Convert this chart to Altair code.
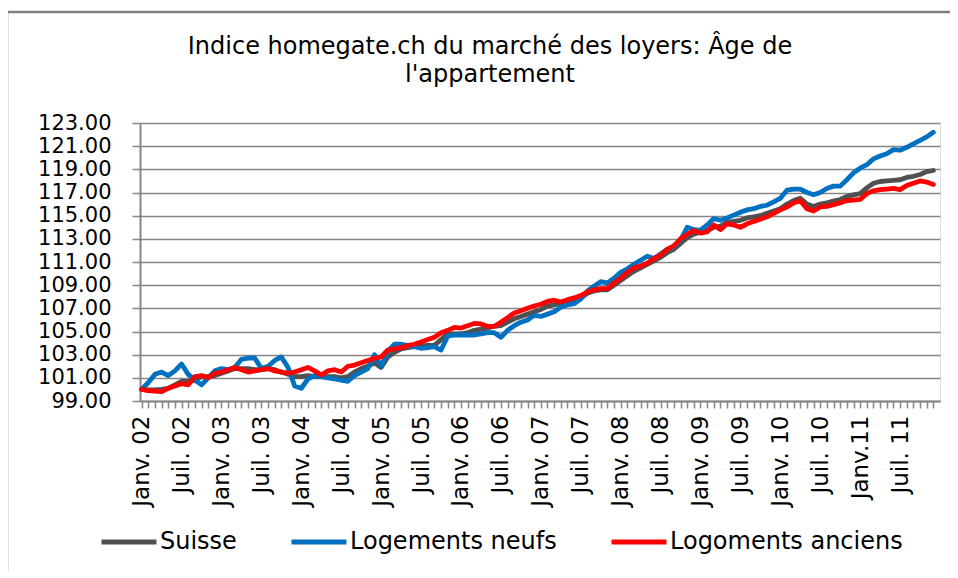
import altair as alt
import pandas as pd

months = list(range(120))

suisse = [
    100.0, 99.95, 99.95, 100.0, 100.1, 100.4, 100.7, 100.7, 100.8, 101.1,
    101.1, 101.2, 101.4, 101.6, 101.8, 101.8, 101.8, 101.7, 101.7, 101.8,
    101.7, 101.5, 101.3, 101.1, 101.1, 101.2, 101.1, 101.1, 101.1, 101.1,
    101.0, 101.1, 101.5, 101.8, 102.0, 102.3, 101.9, 102.8, 103.2, 103.5,
    103.6, 103.7, 103.75, 103.8, 103.8, 104.3, 104.8, 104.8, 104.8, 104.9,
    105.1, 105.2, 105.3, 105.45, 105.5, 105.8, 106.1, 106.3, 106.5, 106.7,
    106.9, 107.2, 107.3, 107.45, 107.6, 107.7, 107.9, 108.3, 108.5, 108.6,
    108.6, 109.0, 109.4, 109.8, 110.2, 110.5, 110.8, 111.1, 111.4, 111.8,
    112.1, 112.6, 113.1, 113.4, 113.6, 113.7, 114.0, 114.1, 114.4, 114.5,
    114.6, 114.8, 114.9, 115.0, 115.2, 115.4, 115.6, 116.0, 116.3, 116.5,
    116.0, 115.8, 116.0, 116.1, 116.25, 116.4, 116.65, 116.8, 116.9, 117.4,
    117.8, 117.95, 118.0, 118.05, 118.1, 118.3, 118.4, 118.55, 118.8, 118.9,
]

neufs = [
    100.0, 100.6, 101.3, 101.5, 101.2, 101.6, 102.2, 101.3, 100.8, 100.4,
    101.0, 101.6, 101.8, 101.7, 101.9, 102.6, 102.7, 102.7, 101.8, 102.0,
    102.5, 102.8, 101.9, 100.3, 100.1, 100.9, 101.2, 101.1, 101.0, 100.9,
    100.8, 100.7, 101.2, 101.5, 101.8, 103.0, 102.0, 103.3, 103.9, 103.9,
    103.8, 103.7, 103.55, 103.6, 103.7, 103.4, 104.6, 104.7, 104.7, 104.7,
    104.7, 104.8, 104.9, 104.9, 104.5, 105.1, 105.5, 105.8, 106.0, 106.4,
    106.3, 106.5, 106.7, 107.1, 107.3, 107.4, 107.8, 108.5, 108.9, 109.3,
    109.2, 109.6, 110.1, 110.4, 110.8, 111.15, 111.5, 111.3, 111.7, 112.1,
    112.3, 112.9, 114.0, 113.8, 113.75, 114.2, 114.75, 114.6, 114.8, 115.05,
    115.3, 115.5, 115.6, 115.8, 115.9, 116.2, 116.5, 117.2, 117.3, 117.3,
    117.0, 116.8, 117.0, 117.35, 117.55, 117.55, 118.1, 118.7, 119.1, 119.4,
    119.9, 120.15, 120.35, 120.7, 120.65, 120.9, 121.2, 121.5, 121.8, 122.2,
]

anciens = [
    100.0, 99.9, 99.85, 99.8, 100.1, 100.3, 100.5, 100.4, 101.1, 101.2,
    101.0, 101.4, 101.5, 101.7, 101.9, 101.7, 101.5, 101.6, 101.7, 101.8,
    101.6, 101.5, 101.4, 101.5, 101.7, 101.9, 101.6, 101.25, 101.6, 101.7,
    101.5, 102.0, 102.1, 102.3, 102.5, 102.7, 102.8, 103.4, 103.5, 103.6,
    103.8, 103.9, 104.1, 104.3, 104.5, 104.9, 105.1, 105.35, 105.3, 105.5,
    105.7, 105.65, 105.45, 105.45, 105.8, 106.2, 106.6, 106.8, 107.0, 107.2,
    107.35, 107.6, 107.7, 107.55, 107.75, 107.9, 108.1, 108.4, 108.6, 108.7,
    108.7, 109.2, 109.6, 110.1, 110.5, 110.65, 110.9, 111.3, 111.6, 112.1,
    112.4, 113.0, 113.4, 113.7, 113.5, 113.6, 114.2, 113.8, 114.3, 114.2,
    114.0, 114.3, 114.5, 114.7, 114.9, 115.2, 115.5, 115.75, 116.1, 116.3,
    115.6, 115.4, 115.75, 115.8, 115.95, 116.1, 116.3, 116.35, 116.4, 116.9,
    117.15, 117.25, 117.3, 117.35, 117.25, 117.6, 117.8, 118.0, 117.9, 117.7,
]

tick_labels = [
    "Janv. 02", "Juil. 02", "Janv. 03", "Juil. 03", "Janv. 04", "Juil. 04",
    "Janv. 05", "Juil. 05", "Janv. 06", "Juil. 06", "Janv. 07", "Juil. 07",
    "Janv. 08", "Juil. 08", "Janv. 09", "Juil. 09", "Janv. 10", "Juil. 10",
    "Janv.11", "Juil. 11",
]

series_names = ["Suisse", "Logements neufs", "Logoments anciens"]
series_colors = ["#505050", "#0070c0", "#ff0000"]
y_ticks = list(range(99, 124, 2))

title_lines = ["Indice homegate.ch du marché des loyers: Âge de", "l'appartement"]

rows = []
for idx, (name, vals) in enumerate(zip(series_names, [suisse, neufs, anciens])):
    for m, v in zip(months, vals):
        rows.append({"m": m, "v": v, "s": name, "o": idx})
df = pd.DataFrame(rows)

label_arr = [tick_labels[m // 6] if m % 6 == 0 else "" for m in months]
label_expr = "[" + ",".join("'" + l + "'" for l in label_arr) + "][datum.value]"

GRAY = "#868686"
FONT = "DejaVu Sans"

lines = alt.Chart(df).mark_line(strokeWidth=4.8, strokeJoin="round", strokeCap="round").encode(
    x=alt.X("m:Q",
            scale=alt.Scale(domain=[-0.25, 120], nice=False, zero=False),
            axis=alt.Axis(values=months, labelExpr=label_expr, labelAngle=-90,
                          labelFontSize=23, labelFont=FONT, labelColor="black",
                          labelOverlap=False, labelBound=False, labelPadding=7,
                          tickSize=7, tickColor=GRAY, tickWidth=1.5,
                          domainColor=GRAY, domainWidth=2, grid=False, title=None)),
    y=alt.Y("v:Q",
            scale=alt.Scale(domain=[99, 123], nice=False, zero=False),
            axis=alt.Axis(values=y_ticks, format=".2f", labelFontSize=21,
                          labelFont=FONT, labelColor="black", labelPadding=21,
                          tickSize=8, tickColor=GRAY, tickWidth=1.5,
                          domainColor=GRAY, domainWidth=2,
                          grid=True, gridColor=GRAY, gridWidth=1.5, title=None)),
    color=alt.Color("s:N",
                    scale=alt.Scale(domain=series_names, range=series_colors),
                    sort=series_names,
                    legend=alt.Legend(orient="none", legendX=-41, legendY=389,
                                      direction="horizontal", title=None,
                                      symbolType="stroke", symbolSize=3025,
                                      symbolStrokeWidth=5, labelFontSize=24,
                                      labelFont=FONT, labelColor="black",
                                      labelLimit=0, columnPadding=44,
                                      labelOffset=1)),
    order=alt.Order("o:Q"),
)

frame = alt.Chart(alt.Data(values=[{}])).mark_rect(
    fill=None, stroke="#7f7f7f", strokeWidth=2.5
).encode(
    x=alt.value(-133), x2=alt.value(830), y=alt.value(-111), y2=alt.value(470)
)

title = alt.Chart(alt.Data(values=[{}])).mark_text(
    text=title_lines, font=FONT, fontSize=24, color="black",
    align="center", baseline="middle", lineHeight=28
).encode(x=alt.value(350), y=alt.value(-76))

chart = alt.layer(frame, lines, title).properties(
    width=800,
    height=278,
    autosize=alt.AutoSizeParams(type="none"),
    padding={"left": 132, "top": 115, "right": 10, "bottom": 170},
).configure_view(stroke=None).configure(background="white")

chart.save("out.html", embed_options={"renderer": "svg", "actions": False})
